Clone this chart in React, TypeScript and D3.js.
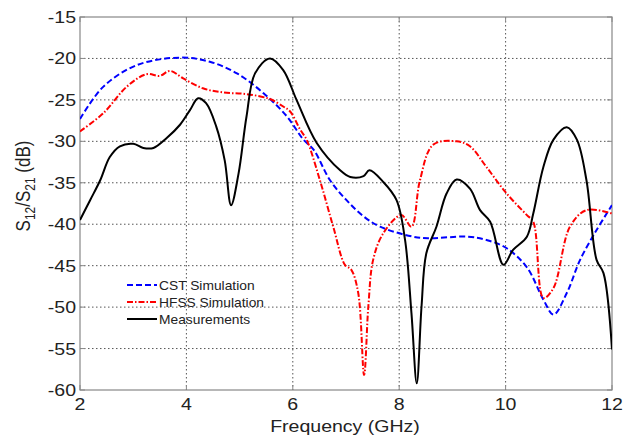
import React from "react";
import * as d3 from "d3";

const xTicks = [2, 4, 6, 8, 10, 12];
const yTicks = [-15, -20, -25, -30, -35, -40, -45, -50, -55, -60];

const cstF = [2, 2.44, 3.07, 3.88, 4.44, 4.95, 5.45, 5.89, 6.2, 6.39, 6.7, 7.01, 7.32, 7.64, 8.26, 8.54, 9.27, 9.64, 10.02, 10.4, 10.71, 10.9, 11.15, 11.4, 11.71, 12];
const cstDb = [-27.3, -23.4, -20.8, -19.9, -20.4, -21.8, -24.2, -27.0, -29.8, -31.0, -34.7, -37.1, -39.0, -40.3, -41.5, -41.7, -41.5, -41.9, -42.9, -45.2, -49.1, -50.9, -48.3, -44.3, -40.7, -37.7];

const hfssF = [2, 2.44, 2.88, 3.25, 3.5, 3.69, 3.94, 4.31, 4.69, 5.13, 5.57, 5.82, 5.95, 6.14, 6.26, 6.51, 6.76, 6.98, 7.1, 7.23, 7.34, 7.42, 7.51, 7.7, 8.04, 8.23, 8.39, 8.64, 9.08, 9.33, 9.64, 10.02, 10.4, 10.52, 10.71, 10.9, 11.21, 11.52, 12];
const hfssDb = [-28.8, -26.6, -23.4, -21.9, -22.1, -21.5, -22.4, -23.6, -24.1, -24.3, -24.9, -25.8, -26.4, -28.6, -29.8, -34.7, -40.3, -44.9, -45.5, -48.3, -58.2, -49.9, -44.3, -41.1, -38.9, -40.3, -34.7, -30.4, -30.0, -30.6, -33.1, -36.3, -38.9, -39.7, -48.9, -47.7, -40.3, -38.3, -38.7];

const measF = [2, 2.19, 2.38, 2.56, 2.75, 3.0, 3.19, 3.38, 3.63, 3.88, 4.07, 4.22, 4.37, 4.56, 4.72, 4.84, 4.98, 5.13, 5.29, 5.57, 5.82, 6.07, 6.45, 6.89, 7.08, 7.33, 7.44, 7.7, 7.95, 8.11, 8.23, 8.33, 8.42, 8.51, 8.7, 8.89, 9.08, 9.33, 9.52, 9.71, 9.96, 10.14, 10.4, 10.52, 10.71, 10.9, 11.15, 11.34, 11.52, 11.71, 11.84, 12];
const measDb = [-39.5, -37.1, -34.7, -31.9, -30.6, -30.3, -30.8, -30.8, -29.6, -28.0, -26.2, -24.8, -25.4, -28.2, -32.3, -37.7, -33.9, -27.0, -21.8, -20.0, -21.4, -25.0, -30.2, -33.5, -34.3, -34.2, -33.5, -34.9, -37.1, -41.9, -50.7, -59.2, -49.9, -43.5, -40.3, -36.3, -34.6, -35.7, -38.3, -39.7, -44.9, -43.1, -41.5, -38.7, -33.1, -29.8, -28.3, -29.8, -34.7, -44.3, -45.9, -55.1];

const seriesNames = ["CST Simulation", "HFSS Simulation", "Measurements"];

const W = 633, H = 439;
const L = 80, R = 612, T = 17, B = 390;
const SX = 1.15;

function T2(props: { x: number; y: number; anchor?: string; size: number; children: React.ReactNode }) {
  return (
    <text transform={`translate(${props.x},${props.y}) scale(${SX},1)`} textAnchor={props.anchor || "start"} fontSize={props.size} fill="#222">
      {props.children}
    </text>
  );
}

export default function App() {
  const x = d3.scaleLinear().domain([2, 12]).range([L, R]);
  const y = d3.scaleLinear().domain([-60, -15]).range([B, T]);
  const line = d3.line<[number, number]>()
    .x(d => x(d[0])).y(d => y(d[1]))
    .curve(d3.curveCatmullRom.alpha(0.5));
  const zip = (a: number[], b: number[]) => a.map((v, i) => [v, b[i]] as [number, number]);
  const series = [
    { name: seriesNames[0], d: zip(cstF, cstDb), color: "#0000ff", dash: "6,3" },
    { name: seriesNames[1], d: zip(hfssF, hfssDb), color: "#ff0000", dash: "6,2,1.5,2" },
    { name: seriesNames[2], d: zip(measF, measDb), color: "#000000", dash: "" },
  ];
  const font = "Liberation Sans, Arial, sans-serif";
  return (
    <svg width={W} height={H} style={{ position: "absolute", left: 0, top: 0, background: "#fff" }} fontFamily={font}>
      <defs>
        <clipPath id="pc"><rect x={L} y={T} width={R - L} height={B - T} /></clipPath>
      </defs>
      {xTicks.slice(1, -1).map(t => (
        <line key={"gx" + t} x1={x(t)} x2={x(t)} y1={T} y2={B} stroke="#555" strokeWidth={1} strokeDasharray="1.5,2.5" />
      ))}
      {yTicks.slice(1, -1).map(t => (
        <line key={"gy" + t} x1={L} x2={R} y1={y(t)} y2={y(t)} stroke="#555" strokeWidth={1} strokeDasharray="1.5,2.5" />
      ))}
      <rect x={L} y={T} width={R - L} height={B - T} fill="none" stroke="#888" strokeWidth={1.2} />
      {xTicks.map(t => (
        <g key={"xt" + t}>
          <line x1={x(t)} x2={x(t)} y1={B} y2={B - 5} stroke="#888" />
          <line x1={x(t)} x2={x(t)} y1={T} y2={T + 5} stroke="#888" />
          <T2 x={x(t)} y={410} anchor="middle" size={17}>{t}</T2>
        </g>
      ))}
      {yTicks.map(t => (
        <g key={"yt" + t}>
          <line x1={L} x2={L + 5} y1={y(t)} y2={y(t)} stroke="#888" />
          <line x1={R} x2={R - 5} y1={y(t)} y2={y(t)} stroke="#888" />
          <T2 x={L - 4} y={y(t) + 6} anchor="end" size={17}>{t}</T2>
        </g>
      ))}
      <g clipPath="url(#pc)">
        {series.map(s => (
          <path key={s.name} d={line(s.d) || ""} fill="none" stroke={s.color} strokeWidth={2} strokeDasharray={s.dash} />
        ))}
      </g>
      {series.map((s, i) => (
        <g key={"lg" + i}>
          <line x1={127} x2={157} y1={285 + i * 17} y2={285 + i * 17} stroke={s.color} strokeWidth={2} strokeDasharray={s.dash} />
          <T2 x={159} y={285 + i * 17 + 4.5} size={12}>{s.name}</T2>
        </g>
      ))}
      <T2 x={345} y={432} anchor="middle" size={17}>Frequency (GHz)</T2>
      <text transform={`translate(29.5,186) scale(${SX},1) rotate(-90)`} textAnchor="middle" fontSize={17} fill="#222">
        S<tspan fontSize={12} dy={5}>12</tspan><tspan dy={-5}>/S</tspan><tspan fontSize={12} dy={5}>21</tspan><tspan dy={-5}> (dB)</tspan>
      </text>
    </svg>
  );
}
